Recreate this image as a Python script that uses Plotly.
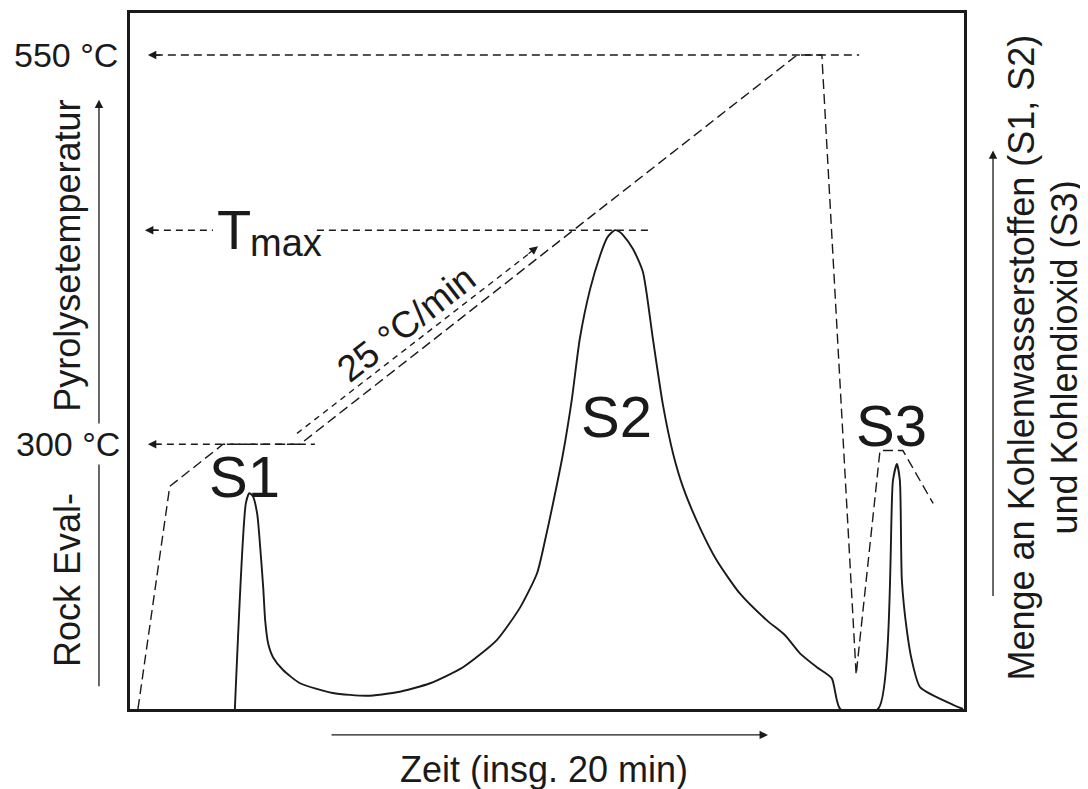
import plotly.graph_objects as go

# ---------------- data ----------------
# temperature programme (dashed line): time [min], temperature [°C]
temp_t = [0.16, 0.80, 1.87, 3.42, 13.42, 13.92, 14.61, 15.09, 15.55, 16.16]
temp_C = [130, 273, 300, 300, 550, 550, 152, 296, 296, 262]

# detector signal (solid line): time [min], relative amount [%]
sig_t = [2.11, 2.33, 2.40, 2.47, 2.56, 2.62, 2.68, 2.72, 2.78, 2.88, 3.08, 3.42,
         4.08, 4.77, 5.37, 6.04, 6.70, 7.38, 7.85, 8.19, 8.35, 8.51, 8.71, 8.89,
         9.05, 9.26, 9.46, 9.60, 9.68, 9.76, 9.84, 9.92, 10.12, 10.32, 10.52, 10.72,
         10.93, 11.13, 11.47, 11.81, 12.27, 12.82, 13.18, 13.48, 13.82, 14.12, 14.29,
         15.05, 15.35, 15.43, 15.49, 15.53, 15.63, 15.73, 15.90, 16.56, 16.76]
sig_v = [0.0, 29.5, 31.0, 30.6, 28.0, 23.2, 17.5, 12.7, 9.4, 7.4, 5.6, 3.7,
         2.3, 1.9, 2.4, 3.7, 6.0, 9.9, 14.6, 19.5, 24.2, 29.5, 36.6, 44.5,
         53.2, 60.4, 65.2, 67.7, 68.4, 68.8, 68.6, 68.1, 66.1, 62.8, 53.2, 43.8,
         36.6, 31.8, 26.0, 21.3, 16.6, 12.7, 10.6, 8.0, 6.0, 4.4, 0.0,
         0.0, 32.8, 35.2, 32.8, 18.5, 11.3, 7.0, 3.1, 0.6, 0.0]

# reference temperatures
T_LOW, T_MAX, T_HIGH = 300, 437.5, 550
ref550_t = [0.50, 14.67]
refTmax_t = [0.44, 1.67, None, 3.76, 10.52]
ref300_t = [0.50, 3.72]
arrow_tip_t = [0.36, 0.30, 0.36]          # arrow tips of the three reference lines
rate_t = [3.36, 8.05]                      # 25 °C/min arrow
rate_C = [307, 423.0]
rate_tip = (8.21, 427.2)

X_RANGE = [0, 16.78]
Y_RANGE = [130, 577]
S_RANGE = [0, 100]

FONT = "Liberation Sans, Arial, Helvetica, sans-serif"
INK = "#1a1a1a"

fig = go.Figure()

fig.add_trace(go.Scatter(x=temp_t, y=temp_C, mode="lines",
                         line=dict(color=INK, width=1.4, dash="10px,5px"),
                         hoverinfo="skip"))
fig.add_trace(go.Scatter(x=ref550_t, y=[T_HIGH] * len(ref550_t), mode="lines",
                         line=dict(color=INK, width=1.4, dash="8px,5px"), hoverinfo="skip"))
fig.add_trace(go.Scatter(x=refTmax_t, y=[T_MAX if v is not None else None for v in refTmax_t],
                         mode="lines", connectgaps=False,
                         line=dict(color=INK, width=1.4, dash="7px,5px"), hoverinfo="skip"))
fig.add_trace(go.Scatter(x=ref300_t, y=[T_LOW] * len(ref300_t), mode="lines",
                         line=dict(color=INK, width=1.4, dash="7px,5px"), hoverinfo="skip"))
fig.add_trace(go.Scatter(x=rate_t, y=rate_C, mode="lines",
                         line=dict(color=INK, width=1.4, dash="6px,5px"), hoverinfo="skip"))
fig.add_trace(go.Scatter(x=sig_t, y=sig_v, mode="lines", yaxis="y2",
                         line=dict(color=INK, width=1.9, shape="spline", smoothing=0.6),
                         hoverinfo="skip"))

ann = []
# arrowheads of the dashed reference lines
for tip, yv in zip(arrow_tip_t, [T_HIGH, T_MAX, T_LOW]):
    ann.append(dict(x=tip, y=yv, xref="x", yref="y", text="", showarrow=True,
                    ax=14, ay=0, arrowhead=2, arrowsize=1.3, arrowwidth=1.3,
                    arrowcolor=INK, standoff=0))
ann.append(dict(x=rate_tip[0], y=rate_tip[1], xref="x", yref="y", text="", showarrow=True,
                ax=-11, ay=8.6, arrowhead=2, arrowsize=1.3, arrowwidth=1.3,
                arrowcolor=INK, standoff=0))

# axis direction arrows
ann.append(dict(x=-0.0372, y=0.8755, xref="paper", yref="paper", text="", showarrow=True,
                ax=0, ay=588, arrowhead=2, arrowsize=1.3, arrowwidth=1.3, arrowcolor=INK, standoff=0))
ann.append(dict(x=1.0348, y=0.8026, xref="paper", yref="paper", text="", showarrow=True,
                ax=0, ay=447, arrowhead=2, arrowsize=1.3, arrowwidth=1.3, arrowcolor=INK, standoff=0))
ann.append(dict(x=0.765, y=-0.0372, xref="paper", yref="paper", text="", showarrow=True,
                ax=-438, ay=0, arrowhead=2, arrowsize=1.3, arrowwidth=1.3, arrowcolor=INK, standoff=0))

def txt(x, y, s, size, xref="x", yref="y", xanchor="center", yanchor="middle", angle=0, bg=None):
    d = dict(x=x, y=y, xref=xref, yref=yref, text=s, showarrow=False,
             xanchor=xanchor, yanchor=yanchor, textangle=angle,
             font=dict(family=FONT, size=size, color=INK))
    if bg:
        d["bgcolor"] = bg
    return d

ann.append(txt(-0.012, T_HIGH, "550 °C", 34, xref="paper", xanchor="right"))
ann.append(txt(-0.0096, T_LOW, "300 °C", 34, xref="paper", xanchor="right", bg="white"))
ann.append(txt(-0.075, 0.652, "Pyrolysetemperatur", 36, xref="paper", yref="paper", angle=-90))
ann.append(txt(-0.075, 0.186, "Rock Eval-", 36, xref="paper", yref="paper", angle=-90))
ann.append(txt(1.0695, 0.505, "Menge an Kohlenwasserstoffen (S1, S2)", 36,
               xref="paper", yref="paper", angle=-90))
ann.append(txt(1.12, 0.505, "und Kohlendioxid (S3)", 36, xref="paper", yref="paper", angle=-90))
ann.append(txt(0.496, -0.0873, "Zeit (insg. 20 min)", 36, xref="paper", yref="paper"))

ann.append(txt(2.10, 437.8, "T", 56))
ann.append(txt(2.37, 429.0, "max", 38, xanchor="left"))
ann.append(txt(5.57, 377.4, "25 °C/min", 37, angle=-38))
ann.append(txt(2.31, 279.5, "S1", 58))
ann.append(txt(9.78, 317.9, "S2", 58))
ann.append(txt(15.33, 312.1, "S3", 58))

axis_common = dict(showgrid=False, zeroline=False, showticklabels=False, ticks="",
                   fixedrange=True)
# the page body has an 8 px margin: the figure is sized so the plot area lands
# at page pixels x 130..964, y 10..709
fig.update_layout(
    width=1080, height=781,
    margin=dict(l=122, r=124, t=2, b=80, pad=0),
    paper_bgcolor="white", plot_bgcolor="white",
    showlegend=False,
    xaxis=dict(range=X_RANGE, showline=True, mirror=True, linewidth=2.5, linecolor=INK, **axis_common),
    yaxis=dict(range=Y_RANGE, showline=True, mirror=True, linewidth=2.5, linecolor=INK, **axis_common),
    yaxis2=dict(range=S_RANGE, overlaying="y", side="right", showline=False, **axis_common),
    annotations=ann,
)

fig.write_html("out.html")
